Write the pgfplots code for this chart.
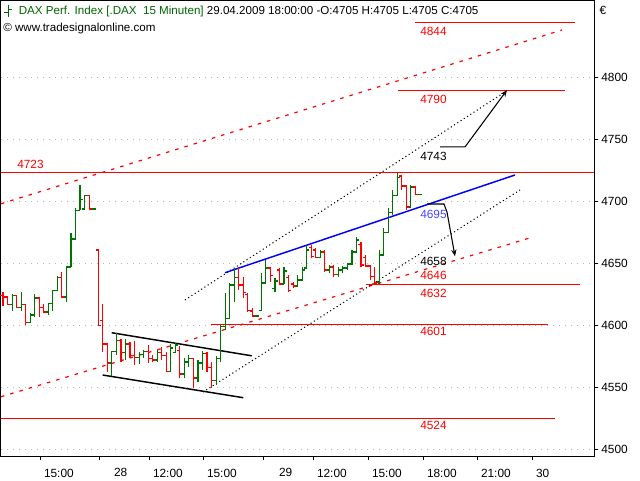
\documentclass[border=0pt]{standalone}
\usepackage{fontspec}
\setmainfont{Liberation Sans}
\usepackage{pgfplots}
\usepackage{pgfplotstable}
\pgfplotsset{compat=1.18}
\usetikzlibrary{arrows.meta}
\definecolor{upc}{RGB}{0,115,0}
\definecolor{dnc}{RGB}{255,0,0}
\definecolor{ttlgreen}{RGB}{0,100,0}
\definecolor{lblblue}{RGB}{70,70,255}
\newcommand\cf{\fontsize{8.9}{11}\selectfont}
\newcommand\tf{\fontsize{8.7}{11}\selectfont}
\pgfdeclareplotmark{otick}{\pgfpathmoveto{\pgfqpoint{-1.9pt}{0pt}}\pgfpathlineto{\pgfqpoint{0.3pt}{0pt}}\pgfusepathqstroke}
\pgfdeclareplotmark{ctick}{\pgfpathmoveto{\pgfqpoint{-0.3pt}{0pt}}\pgfpathlineto{\pgfqpoint{1.9pt}{0pt}}\pgfusepathqstroke}

\pgfplotstableread{
x o h l c
12.1 4616.9 4625.0 4611.3 4624.2
21.1 4614.5 4626.6 4611.3 4616.9
30.2 4602.4 4609.7 4602.4 4608.1
34.7 4608.1 4625.0 4606.5 4621.8
48.3 4610.5 4617.7 4608.1 4617.7
52.8 4617.7 4628.2 4611.3 4628.2
57.4 4628.2 4639.5 4628.2 4638.7
66.4 4622.6 4646.8 4618.6 4646.8
71.0 4646.8 4674.2 4646.8 4669.4
75.5 4669.4 4694.4 4669.4 4692.7
80.0 4692.7 4712.9 4692.7 4701.6
84.5 4693.6 4704.8 4692.7 4704.8
93.6 4693.6 4693.6 4693.6 4693.6
111.9 4569.4 4579.0 4558.9 4579.0
116.4 4579.0 4593.6 4575.8 4587.9
125.5 4578.2 4588.7 4571.8 4584.7
139.1 4574.2 4578.2 4568.6 4576.6
143.6 4576.6 4579.8 4573.4 4579.0
157.2 4571.8 4579.8 4570.2 4578.2
170.8 4562.9 4584.7 4562.1 4581.5
175.3 4578.2 4585.5 4577.4 4583.9
184.4 4560.5 4573.4 4557.3 4570.2
188.9 4570.2 4575.8 4566.1 4573.4
198.0 4557.3 4571.8 4554.0 4569.4
202.5 4569.4 4579.0 4563.7 4577.4
216.1 4555.6 4575.0 4551.6 4573.4
220.6 4573.4 4600.0 4570.2 4599.2
225.1 4599.2 4625.8 4596.0 4605.6
229.7 4605.6 4633.9 4605.6 4632.3
234.2 4632.3 4646.0 4618.6 4638.7
256.9 4607.3 4607.3 4606.5 4607.3
261.4 4612.1 4641.9 4612.1 4633.9
265.9 4633.9 4652.4 4633.9 4646.0
275.0 4629.8 4637.9 4626.6 4635.5
284.0 4633.1 4646.8 4633.1 4643.6
297.6 4631.5 4640.3 4630.6 4636.3
302.2 4636.3 4646.8 4636.3 4644.4
306.7 4646.0 4664.5 4646.0 4660.5
320.3 4654.8 4660.5 4654.8 4658.9
329.3 4644.4 4648.4 4641.9 4646.8
338.4 4641.1 4646.8 4638.7 4644.4
342.9 4644.4 4647.6 4641.9 4646.0
347.5 4646.0 4650.0 4644.4 4649.2
352.0 4649.2 4660.5 4648.4 4658.9
356.5 4658.9 4671.0 4658.9 4668.6
379.2 4634.7 4660.5 4633.1 4656.5
383.7 4656.5 4678.2 4656.5 4675.0
388.2 4675.0 4694.4 4675.0 4691.1
392.8 4691.1 4708.9 4688.7 4704.8
397.3 4704.8 4722.6 4704.8 4718.6
410.9 4695.2 4712.9 4694.4 4711.3
419.9 4705.0 4705.0 4705.0 4705.0
}\upbars

\pgfplotstableread{
x o h l c
3.0 4624.2 4626.6 4615.3 4622.6
7.5 4622.6 4622.6 4616.9 4616.9
16.6 4624.2 4624.2 4614.5 4614.5
25.7 4616.9 4616.9 4600.0 4602.4
39.2 4621.8 4621.8 4606.5 4614.5
43.8 4614.5 4616.9 4610.5 4610.5
61.9 4638.7 4642.7 4621.8 4622.6
89.1 4704.8 4704.8 4693.6 4693.6
98.3 4660.5 4660.5 4600.0 4600.0
102.8 4604.0 4616.9 4578.2 4584.7
107.4 4584.7 4585.5 4562.1 4569.4
121.0 4587.9 4588.7 4570.2 4578.2
130.0 4584.7 4586.3 4573.4 4575.8
134.5 4575.8 4587.1 4567.7 4574.2
148.1 4579.0 4583.9 4569.4 4573.4
152.7 4573.4 4575.8 4570.2 4571.8
161.7 4578.2 4582.3 4571.8 4575.8
166.3 4575.8 4578.2 4562.1 4562.9
179.8 4579.8 4583.1 4557.3 4560.5
193.4 4573.4 4573.4 4549.2 4557.3
207.0 4577.4 4578.2 4562.1 4566.1
211.6 4566.1 4570.2 4549.2 4555.6
238.7 4638.7 4646.0 4628.2 4632.3
243.3 4632.3 4638.7 4621.8 4626.6
247.8 4625.0 4625.8 4610.5 4612.1
252.3 4611.3 4613.7 4606.5 4607.3
270.4 4646.0 4646.8 4634.7 4640.3
279.5 4644.4 4646.0 4632.3 4633.1
288.6 4638.7 4640.3 4626.6 4628.2
293.1 4633.1 4634.7 4629.8 4631.5
311.2 4662.9 4664.5 4654.0 4655.6
315.7 4660.5 4662.1 4654.0 4654.8
324.8 4658.9 4660.5 4642.7 4644.4
333.9 4646.8 4648.4 4638.7 4641.1
361.0 4665.3 4666.9 4646.8 4648.4
365.6 4654.8 4656.5 4646.8 4647.6
370.1 4647.6 4648.4 4636.3 4639.5
374.6 4639.5 4646.8 4632.3 4633.9
401.8 4720.2 4721.0 4708.9 4712.1
406.3 4712.1 4712.9 4692.7 4695.2
415.4 4711.3 4711.3 4704.5 4705.0
}\dnbars

\newcommand\ohlc[2]{%
\addplot[draw=none, mark=none, forget plot, error bars/.cd, y dir=plus, y explicit, error mark=none, error bar style={draw=#2, line width=0.8pt, solid}] table[x=x, y=l, y error expr=\thisrow{h}-\thisrow{l}] {#1};
\addplot[only marks, forget plot, mark=otick, mark options={draw=#2, line width=0.8pt, solid}] table[x=x, y=o] {#1};
\addplot[only marks, forget plot, mark=ctick, mark options={draw=#2, line width=0.8pt, solid}] table[x=x, y=c] {#1};
}

\begin{document}
\begin{tikzpicture}
\path[use as bounding box] (0pt,0pt) rectangle (480pt,360pt);
\begin{axis}[
  at={(0.75pt,18pt)}, anchor=south west,
  scale only axis, width=444.75pt, height=341.25pt,
  xmin=1, xmax=594, ymin=4494.4, ymax=4861.3,
  clip=false,
  axis line style={black, line width=0.75pt},
  tick align=outside, major tick length=3pt,
  tick style={black, line width=0.6pt},
  xtick pos=lower, ytick pos=upper, yticklabel pos=upper,
  ytick={4500,4550,...,4800},
  ymajorgrids, grid style={gray!55, line width=0.6pt, dash pattern=on 0.75pt off 3.75pt},
  /pgf/number format/.cd, 1000 sep={}, assume math mode=true, /pgfplots/.cd,
  yticklabel style={font=\cf, xshift=-1pt},
  xtick={40,99,149,203,263,313,368,423,477,532},
  xticklabels={15:00,,12:00,15:00,,12:00,15:00,18:00,21:00,30},
  xticklabel style={font=\cf, anchor=north west, xshift=-0.5pt, yshift=-3pt},
  extra x ticks={110,275},
  extra x tick labels={28,29},
  extra x tick style={major tick length=0pt, xticklabel style={yshift=-2.5pt}},
]
% channels: dashed red
\addplot[color=dnc, line width=0.9pt, dash pattern=on 2.6pt off 4.6pt] coordinates {(1,4697.8) (562,4837.9)};
\addplot[color=dnc, line width=0.9pt, dash pattern=on 2.6pt off 4.6pt] coordinates {(1,4542.2) (533,4671.0)};
% dotted black channel
\addplot[color=black, line width=0.8pt, dash pattern=on 0.8pt off 2.1pt] coordinates {(185,4620.2) (505,4787.9)};
\addplot[color=black, line width=0.8pt, dash pattern=on 0.8pt off 2.1pt] coordinates {(203,4546.0) (520,4708.9)};
% horizontal red levels
\addplot[color=dnc, line width=0.8pt] coordinates {(415,4843.96) (575,4843.96)};
\addplot[color=dnc, line width=0.8pt] coordinates {(398,4789.13) (565,4789.13)};
\addplot[color=dnc, line width=0.8pt] coordinates {(1,4723.00) (594,4723.00)};
\addplot[color=dnc, line width=0.8pt] coordinates {(366,4632.69) (580,4632.69)};
\addplot[color=dnc, line width=0.8pt] coordinates {(211,4600.43) (548,4600.43)};
\addplot[color=dnc, line width=0.8pt] coordinates {(1,4524.63) (555,4524.63)};
% flag
\addplot[color=black, line width=1.1pt] coordinates {(111.7,4593.8) (251.7,4575.2)};
\addplot[color=black, line width=1.1pt] coordinates {(102.7,4559.7) (243.3,4541.4)};
% blue trend
\addplot[color=blue, line width=1.1pt] coordinates {(225,4642.2) (515,4721.0)};
% bars
\ohlc{\upbars}{upc}
\ohlc{\dnbars}{dnc}
% arrows
\addplot[color=black, line width=0.8pt, -{Stealth[length=5pt,width=4pt]}] coordinates {(440,4743.6) (465,4743.6) (507,4789.5)};
\addplot[color=black, line width=0.8pt, -{Stealth[length=5pt,width=4pt]}] coordinates {(427,4697.6) (444,4697.6) (447,4691.1) (455,4655.5)};
% level labels
\node[anchor=west, inner sep=0pt, text=dnc, font=\cf] at (axis cs:420,4837.1) {4844};
\node[anchor=west, inner sep=0pt, text=dnc, font=\cf] at (axis cs:420,4782.3) {4790};
\node[anchor=west, inner sep=0pt, text=black, font=\cf] at (axis cs:420,4736.3) {4743};
\node[anchor=west, inner sep=0pt, text=dnc, font=\cf] at (axis cs:17,4729.8) {4723};
\node[anchor=west, inner sep=0pt, text=lblblue, font=\cf] at (axis cs:420,4689.5) {4695};
\node[anchor=west, inner sep=0pt, text=black, font=\cf] at (axis cs:420,4651.6) {4658};
\node[anchor=west, inner sep=0pt, text=dnc, font=\cf] at (axis cs:420,4640.3) {4646};
\node[anchor=west, inner sep=0pt, text=dnc, font=\cf] at (axis cs:420,4625.8) {4632};
\node[anchor=west, inner sep=0pt, text=dnc, font=\cf] at (axis cs:420,4595.2) {4601};
\node[anchor=west, inner sep=0pt, text=dnc, font=\cf] at (axis cs:420,4519.4) {4524};
% title
\node[anchor=west, inner sep=0pt, font=\tf] at (axis cs:4,4853.2) {\textcolor{ttlgreen}{\rule[1.2pt]{2.6pt}{0.75pt}\rule[-1.5pt]{0.75pt}{9pt}\rule[4pt]{2.6pt}{0.75pt}}\hspace{5pt}\textcolor{ttlgreen}{DAX Perf. Index [.DAX\ \ 15 Minuten]} 29.04.2009 18:00:00 -O:4705 H:4705 L:4705 C:4705};
\node[anchor=west, inner sep=0pt, font=\tf] at (axis cs:3,4839.5) {© www.tradesignalonline.com};
\node[anchor=north west, inner sep=0pt, font=\cf] at (rel axis cs:1,1) [xshift=4pt, yshift=-3.5pt] {€};
\end{axis}
\end{tikzpicture}
\end{document}
